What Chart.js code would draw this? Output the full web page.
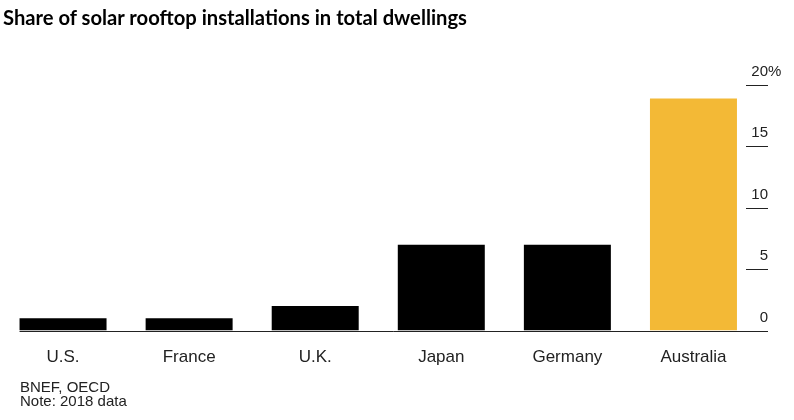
<!DOCTYPE html>
<html>
<head>
<meta charset="utf-8">
<script src="https://cdn.jsdelivr.net/npm/chart.js@4"></script>
<style>
  html, body { margin: 0; padding: 0; background: #fff; }
  #wrap { position: relative; width: 794px; height: 420px; }
  #title { position: absolute; left: 3px; top: 5px; font: bold 20.2px Lato, "Open Sans", sans-serif; color: #000; white-space: nowrap; }
  #source { position: absolute; left: 20px; top: 380px; font: 15px "Liberation Sans", Arial, sans-serif; color: #222; line-height: 14px; }
  canvas { position: absolute; left: 0; top: 0; }
</style>
</head>
<body>
<div id="wrap">
  <canvas id="solarChart" width="794" height="420"></canvas>
  <div id="title">Share of solar rooftop installations in total dwellings</div>
  <div id="source">BNEF, OECD<br>Note: 2018 data</div>
</div>
<script>
const countries = ["U.S.", "France", "U.K.", "Japan", "Germany", "Australia"];
const shares = [1.0, 1.0, 2.0, 7.0, 7.0, 18.9];
const barColors = ["#000", "#000", "#000", "#000", "#000", "#F3B936"];
const yTicks = [0, 5, 10, 15, 20];

// right-hand axis: label above a short dash, plus the baseline
const sideAxis = {
    id: "sideAxis",
    afterDraw(chart) {
        const ctx = chart.ctx;
        const y = chart.scales.y;
        const first = chart.getDatasetMeta(0).data[0];
        const right = 768;
        ctx.save();
        ctx.strokeStyle = "#222";
        ctx.lineWidth = 1;
        ctx.beginPath();
        ctx.moveTo(first.x - first.width / 2, Math.round(y.getPixelForValue(0)) + 0.5);
        ctx.lineTo(right, Math.round(y.getPixelForValue(0)) + 0.5);
        ctx.stroke();
        ctx.font = "15px 'Liberation Sans', Arial, sans-serif";
        ctx.fillStyle = "#222";
        ctx.textBaseline = "middle";
        yTicks.forEach(v => {
            const py = Math.round(y.getPixelForValue(v)) + 0.5;
            if (v > 0) {
                ctx.beginPath();
                ctx.moveTo(746, py);
                ctx.lineTo(right, py);
                ctx.stroke();
            }
            ctx.textAlign = "right";
            ctx.fillText(String(v), right, py - 14);
            if (v === yTicks[yTicks.length - 1]) {
                ctx.textAlign = "left";
                ctx.fillText("%", right, py - 14);
            }
        });
        ctx.restore();
    }
};

new Chart(document.getElementById("solarChart"), {
    type: "bar",
    data: {
        labels: countries,
        datasets: [{
            data: shares,
            backgroundColor: barColors,
            categoryPercentage: 1,
            barPercentage: 0.69
        }]
    },
    options: {
        responsive: false,
        animation: false,
        layout: {
            padding: { left: 0, right: 37.5, top: 85, bottom: 43 }
        },
        plugins: {
            legend: { display: false },
            tooltip: { enabled: false }
        },
        scales: {
            x: {
                grid: { display: false },
                border: { display: false },
                ticks: {
                    color: "#222",
                    padding: 9,
                    font: { family: "'Liberation Sans', Arial, sans-serif", size: 17 }
                }
            },
            y: {
                display: false,
                min: 0,
                max: 20
            }
        }
    },
    plugins: [sideAxis]
});
</script>
</body>
</html>
